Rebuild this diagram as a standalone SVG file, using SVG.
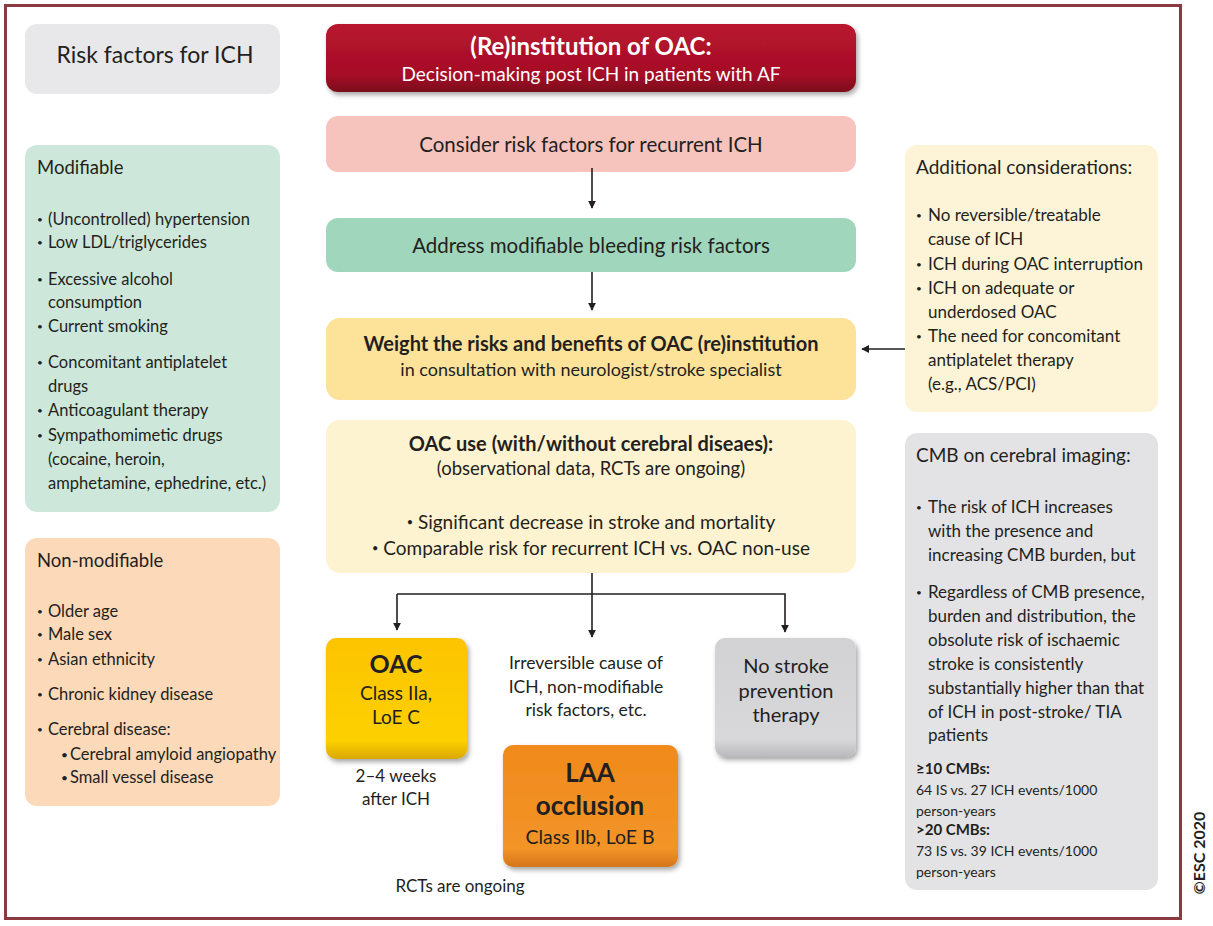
<svg xmlns="http://www.w3.org/2000/svg" width="1213" height="926" viewBox="0 0 1213 926">
<style>
text{font-family:Lato,"Open Sans","Liberation Sans",sans-serif;fill:#231f20}
.t{font-size:16.5px}
.r{font-size:17px}
.h{font-size:18.5px}
.c{text-anchor:middle}
.b{font-weight:bold}
.s{font-size:14px}
.d{font-size:10px}
.conn{stroke:#231f20;stroke-width:1.6;fill:none}
</style>
<defs>
<marker id="ah" viewBox="0 0 10 10" refX="9" refY="5" markerWidth="8" markerHeight="9" markerUnits="userSpaceOnUse" orient="auto">
<path d="M0,0 L10,5 L0,10 z" fill="#231f20"/>
</marker>
<filter id="sh" x="-10%" y="-10%" width="125%" height="130%">
<feDropShadow dx="2" dy="3" stdDeviation="2.5" flood-color="#000" flood-opacity="0.35"/>
</filter>
<linearGradient id="gRed" x1="0" y1="0" x2="0" y2="1">
<stop offset="0" stop-color="#b8142f"/><stop offset="0.75" stop-color="#a60f27"/><stop offset="1" stop-color="#7a0a1b"/>
</linearGradient>
<linearGradient id="gOac" x1="0" y1="0" x2="0" y2="1">
<stop offset="0" stop-color="#fcc400"/><stop offset="0.85" stop-color="#fdd000"/><stop offset="1" stop-color="#d9a800"/>
</linearGradient>
<linearGradient id="gLaa" x1="0" y1="0" x2="0" y2="1">
<stop offset="0" stop-color="#f08a1c"/><stop offset="0.85" stop-color="#f39428"/><stop offset="1" stop-color="#d4761a"/>
</linearGradient>
<linearGradient id="gGrey" x1="0" y1="0" x2="0" y2="1">
<stop offset="0" stop-color="#d2d2d4"/><stop offset="0.85" stop-color="#d8d8da"/><stop offset="1" stop-color="#b9b9bb"/>
</linearGradient>
</defs>

<rect x="0" y="0" width="1213" height="926" fill="#ffffff"/>
<rect id="frame" x="5.5" y="5.5" width="1175" height="913" fill="none" stroke="#8b3a42" stroke-width="3"/>

<g id="risk-title">
<rect x="25" y="24" width="255" height="70" rx="12" fill="#e8e8ea"/>
<text x="155" y="63" class="c" style="font-size:23px">Risk factors for ICH</text>
</g>

<g id="modifiable">
<rect x="25" y="145" width="255" height="367" rx="12" fill="#cde8da"/>
<text x="37" y="174" class="h">Modifiable</text>
<text class="t">
<tspan x="37" y="223" class="d">•</tspan><tspan x="48" y="225">(Uncontrolled) hypertension</tspan>
<tspan x="37" y="246" class="d">•</tspan><tspan x="48" y="248">Low LDL/triglycerides</tspan>
<tspan x="37" y="283" class="d">•</tspan><tspan x="48" y="285">Excessive alcohol</tspan>
<tspan x="48" y="308">consumption</tspan>
<tspan x="37" y="330" class="d">•</tspan><tspan x="48" y="332">Current smoking</tspan>
<tspan x="37" y="366" class="d">•</tspan><tspan x="48" y="368">Concomitant antiplatelet</tspan>
<tspan x="48" y="392">drugs</tspan>
<tspan x="37" y="414" class="d">•</tspan><tspan x="48" y="416">Anticoagulant therapy</tspan>
<tspan x="37" y="439" class="d">•</tspan><tspan x="48" y="441">Sympathomimetic drugs</tspan>
<tspan x="48" y="465">(cocaine, heroin,</tspan>
<tspan x="48" y="489">amphetamine, ephedrine, etc.)</tspan>
</text>
</g>

<g id="nonmodifiable">
<rect x="25" y="538" width="255" height="268" rx="12" fill="#fcd9b8"/>
<text x="37" y="567" class="h">Non-modifiable</text>
<text class="t">
<tspan x="37" y="615" class="d">•</tspan><tspan x="48" y="617">Older age</tspan>
<tspan x="37" y="638" class="d">•</tspan><tspan x="48" y="640">Male sex</tspan>
<tspan x="37" y="663" class="d">•</tspan><tspan x="48" y="665">Asian ethnicity</tspan>
<tspan x="37" y="698" class="d">•</tspan><tspan x="48" y="700">Chronic kidney disease</tspan>
<tspan x="37" y="733" class="d">•</tspan><tspan x="48" y="735">Cerebral disease:</tspan>
<tspan x="61" y="759" style="font-size:12px">•</tspan><tspan x="70" y="760">Cerebral amyloid angiopathy</tspan>
<tspan x="61" y="782" style="font-size:12px">•</tspan><tspan x="70" y="783">Small vessel disease</tspan>
</text>
</g>

<g id="title">
<rect x="326" y="24" width="530" height="68" rx="12" fill="url(#gRed)" filter="url(#sh)"/>
<text x="591" y="55" class="c b" style="font-size:24px;fill:#fff">(Re)institution of OAC:</text>
<text x="591" y="81" class="c" style="font-size:19px;fill:#fff">Decision-making post ICH in patients with AF</text>
</g>

<g id="consider">
<rect x="326" y="116" width="530" height="56" rx="12" fill="#f7c3bd"/>
<text x="591" y="152" class="c" style="font-size:20.5px">Consider risk factors for recurrent ICH</text>
</g>

<g id="address">
<rect x="326" y="218" width="530" height="54" rx="12" fill="#9fd6bc"/>
<text x="591" y="253" class="c" style="font-size:20.5px">Address modifiable bleeding risk factors</text>
</g>

<g id="weight">
<rect x="326" y="318" width="530" height="82" rx="14" fill="#fde29a"/>
<text x="591" y="351" class="c b" style="font-size:20px">Weight the risks and benefits of OAC (re)institution</text>
<text x="591" y="376" class="c" style="font-size:18px">in consultation with neurologist/stroke specialist</text>
</g>

<g id="oacuse">
<rect x="326" y="420" width="530" height="153" rx="14" fill="#fef3d0"/>
<text x="591" y="451" class="c b" style="font-size:20px">OAC use (with/without cerebral diseaes):</text>
<text x="591" y="475" class="c" style="font-size:18.5px">(observational data, RCTs are ongoing)</text>
<text x="591" y="529" class="c" style="font-size:19px"><tspan style="font-size:11px" dy="-3">•</tspan><tspan dy="3"> Significant decrease in stroke and mortality</tspan></text>
<text x="591" y="555" class="c" style="font-size:19px"><tspan style="font-size:11px" dy="-3">•</tspan><tspan dy="3"> Comparable risk for recurrent ICH vs. OAC non-use</tspan></text>
</g>

<g id="oac">
<rect x="326" y="638" width="141" height="121" rx="10" fill="url(#gOac)" filter="url(#sh)"/>
<text x="396" y="673" class="c b" style="font-size:25px">OAC</text>
<text x="396" y="700" class="c" style="font-size:19px">Class IIa,</text>
<text x="396" y="724" class="c" style="font-size:19px">LoE C</text>
</g>
<text x="396" y="782" class="c" style="font-size:17px">2–4 weeks</text>
<text x="396" y="805" class="c" style="font-size:17px">after ICH</text>

<text x="586" y="669" class="c" style="font-size:17.5px">Irreversible cause of</text>
<text x="586" y="693" class="c" style="font-size:17.5px">ICH, non-modifiable</text>
<text x="586" y="716" class="c" style="font-size:17.5px">risk factors, etc.</text>

<g id="laa">
<rect x="503" y="745" width="175" height="122" rx="10" fill="url(#gLaa)" filter="url(#sh)"/>
<text x="590" y="782" class="c b" style="font-size:26px">LAA</text>
<text x="590" y="815" class="c b" style="font-size:26px">occlusion</text>
<text x="590" y="844" class="c" style="font-size:19.5px">Class IIb, LoE B</text>
</g>
<text x="460" y="892" class="c" style="font-size:17px">RCTs are ongoing</text>

<g id="nostroke">
<rect x="715" y="638" width="141" height="119" rx="10" fill="url(#gGrey)" filter="url(#sh)"/>
<text x="786" y="673" class="c" style="font-size:20px">No stroke</text>
<text x="786" y="698" class="c" style="font-size:20px">prevention</text>
<text x="786" y="722" class="c" style="font-size:20px">therapy</text>
</g>

<g id="additional">
<rect x="905" y="145" width="253" height="267" rx="12" fill="#fdf3d6"/>
<text x="916" y="174" style="font-size:19px">Additional considerations:</text>
<text class="r">
<tspan x="916" y="219" class="d">•</tspan><tspan x="928" y="221">No reversible/treatable</tspan>
<tspan x="928" y="245">cause of ICH</tspan>
<tspan x="916" y="268" class="d">•</tspan><tspan x="928" y="270">ICH during OAC interruption</tspan>
<tspan x="916" y="292" class="d">•</tspan><tspan x="928" y="294">ICH on adequate or</tspan>
<tspan x="928" y="318">underdosed OAC</tspan>
<tspan x="916" y="340" class="d">•</tspan><tspan x="928" y="342">The need for concomitant</tspan>
<tspan x="928" y="366">antiplatelet therapy</tspan>
<tspan x="928" y="390">(e.g., ACS/PCI)</tspan>
</text>
</g>

<g id="cmb">
<rect x="905" y="433" width="253" height="457" rx="12" fill="#e3e3e5"/>
<text x="916" y="462" style="font-size:19px">CMB on cerebral imaging:</text>
<text class="r">
<tspan x="916" y="511" class="d">•</tspan><tspan x="928" y="513">The risk of ICH increases</tspan>
<tspan x="928" y="537">with the presence and</tspan>
<tspan x="928" y="561">increasing CMB burden, but</tspan>
<tspan x="916" y="596" class="d">•</tspan><tspan x="928" y="598">Regardless of CMB presence,</tspan>
<tspan x="928" y="622">burden and distribution, the</tspan>
<tspan x="928" y="646">obsolute risk of ischaemic</tspan>
<tspan x="928" y="670">stroke is consistently</tspan>
<tspan x="928" y="694">substantially higher than that</tspan>
<tspan x="928" y="718">of ICH in post-stroke/ TIA</tspan>
<tspan x="928" y="741">patients</tspan>
</text>
<text class="s">
<tspan x="916" y="774" font-weight="bold" style="font-size:15px">≥10 CMBs:</tspan>
<tspan x="916" y="795">64 IS vs. 27 ICH events/1000</tspan>
<tspan x="916" y="816">person-years</tspan>
<tspan x="916" y="835" font-weight="bold" style="font-size:15px">&gt;20 CMBs:</tspan>
<tspan x="916" y="856">73 IS vs. 39 ICH events/1000</tspan>
<tspan x="916" y="877">person-years</tspan>
</text>
</g>

<text transform="translate(1205,853) rotate(-90)" class="c b" style="font-size:16px">©ESC 2020</text>

<g id="connectors">
<line class="conn" x1="592" y1="168" x2="592" y2="208" marker-end="url(#ah)"/>
<line class="conn" x1="592" y1="272" x2="592" y2="310" marker-end="url(#ah)"/>
<line class="conn" x1="905" y1="349" x2="862" y2="349" marker-end="url(#ah)"/>
<line class="conn" x1="592" y1="573" x2="592" y2="637" marker-end="url(#ah)"/>
<polyline class="conn" points="397,594 785,594 785,632" marker-end="url(#ah)"/>
<line class="conn" x1="397" y1="594" x2="397" y2="630" marker-end="url(#ah)"/>
</g>
</svg>
